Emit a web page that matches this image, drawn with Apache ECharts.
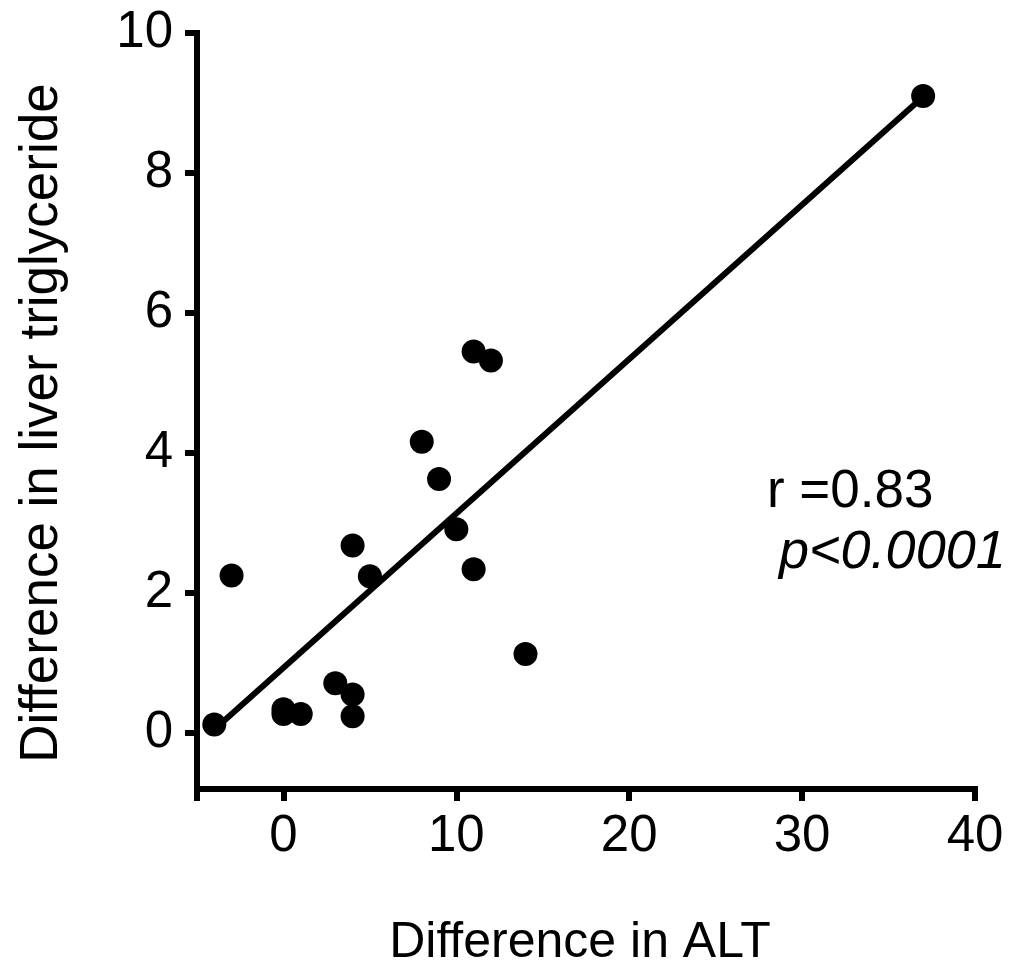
<!DOCTYPE html>
<html>
<head>
<meta charset="utf-8">
<script src="https://cdn.jsdelivr.net/npm/echarts@6/dist/echarts.min.js"></script>
<style>html,body{margin:0;padding:0;background:#fff}#c{width:1009px;height:973px}</style>
</head>
<body>
<div id="c"></div>
<script>
// Data
const altDiff = [-4, -3, 0, 0, 1, 3, 4, 4, 4, 5, 8, 9, 10, 11, 11, 12, 14, 37];
const tgDiff  = [0.12, 2.25, 0.34, 0.27, 0.27, 0.71, 0.55, 0.24, 2.68, 2.24, 4.16, 3.63, 2.91, 2.34, 5.45, 5.32, 1.13, 9.1];
const fitLineX = [-4, 37];
const fitLineY = [0.05, 9.09];
const xTicks = [-5, 0, 10, 20, 30, 40];
const xTickLabels = [0, 10, 20, 30, 40];
const yTicks = [0, 2, 4, 6, 8, 10];
const statsR = 'r =0.83';
const statsP = 'p<0.0001';

const FONT = 'Liberation Sans, Arial, Helvetica, sans-serif';
const chart = echarts.init(document.getElementById('c'), null, {renderer: 'canvas'});

const points = altDiff.map((x, i) => [x, tgDiff[i]]);
const fit = fitLineX.map((x, i) => [x, fitLineY[i]]);

chart.setOption({
  backgroundColor: '#fff',
  animation: false,
  grid: {left: 197, right: 34, top: 33, bottom: 178, containLabel: false},
  xAxis: {
    type: 'value', min: -5, max: 40,
    name: 'Difference in ALT', nameLocation: 'middle', nameGap: 129,
    nameTextStyle: {fontFamily: FONT, fontSize: 50, color: '#000', padding: [0, 12, 0, 0]},
    axisLine: {show: true, onZero: false, lineStyle: {color: '#000', width: 6, cap: 'square'}},
    axisTick: {show: true, length: 12, lineStyle: {color: '#000', width: 6}, customValues: xTicks},
    axisLabel: {fontFamily: FONT, fontSize: 51, color: '#000', margin: 22, customValues: xTickLabels},
    splitLine: {show: false}
  },
  yAxis: {
    type: 'value', min: -0.8, max: 10,
    name: 'Difference in liver triglyceride', nameLocation: 'middle', nameGap: 128,
    nameTextStyle: {fontFamily: FONT, fontSize: 53, color: '#000', padding: [0, 24, 0, 0]},
    axisLine: {show: true, onZero: false, lineStyle: {color: '#000', width: 6, cap: 'square'}},
    axisTick: {show: true, length: 12, lineStyle: {color: '#000', width: 6}, customValues: yTicks},
    axisLabel: {fontFamily: FONT, fontSize: 51, color: '#000', margin: 24, customValues: yTicks},
    splitLine: {show: false}
  },
  series: [
    {
      type: 'line', data: fit, showSymbol: false, symbol: 'none',
      lineStyle: {color: '#000', width: 6}, z: 2, silent: true
    },
    {
      type: 'scatter', data: points, symbol: 'circle', symbolSize: 24,
      itemStyle: {color: '#000', opacity: 1}, z: 3
    }
  ],
  graphic: [
    {type: 'text', left: 767, top: 466, style: {text: statsR, font: '53px ' + FONT, fill: '#000'}},
    {type: 'text', left: 779, top: 526, style: {text: statsP, font: 'italic 54px ' + FONT, fill: '#000'}}
  ]
});
</script>
</body>
</html>
